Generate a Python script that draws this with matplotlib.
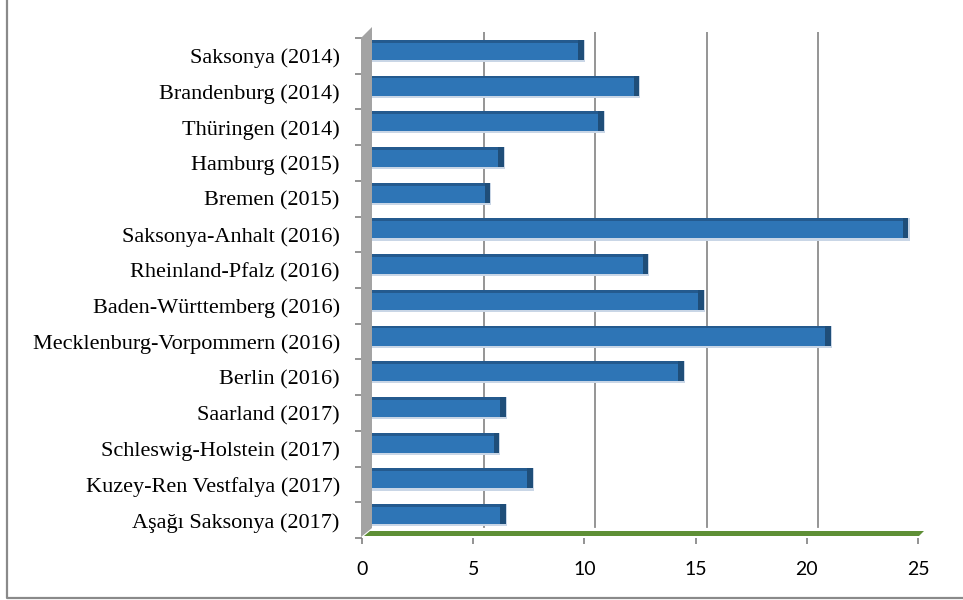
import numpy as np
import matplotlib.pyplot as plt
from matplotlib.patches import Polygon
from matplotlib.lines import Line2D
from matplotlib.transforms import offset_copy

# data (top to bottom as shown)
states = ["Saksonya (2014)", "Brandenburg (2014)", "Thüringen (2014)", "Hamburg (2015)",
          "Bremen (2015)", "Saksonya-Anhalt (2016)", "Rheinland-Pfalz (2016)",
          "Baden-Württemberg (2016)", "Mecklenburg-Vorpommern (2016)", "Berlin (2016)",
          "Saarland (2017)", "Schleswig-Holstein (2017)", "Kuzey-Ren Vestfalya (2017)",
          "Aşağı Saksonya (2017)"]
values = [9.7, 12.2, 10.6, 6.1, 5.5, 24.3, 12.6, 15.1, 20.8, 14.2, 6.2, 5.9, 7.4, 6.2]
xticks = [0, 5, 10, 15, 20, 25]

W, H = 963, 600
fig = plt.figure(figsize=(W / 100, H / 100), dpi=100)

def fx(px):
    return px / W

def fy(py):
    return 1 - py / H

n = len(states)
ypos = np.arange(n)[::-1] + 0.5
vals = np.array(values)

# bar plane (middle depth of the 3d box)
ax = fig.add_axes([fx(368), fy(532), fx(924) - fx(368), fy(32) - fy(532)])
ax.set_xlim(0, 25)
ax.set_ylim(0, n)
ax.axis("off")

# gridlines sit on the back wall, a bit to the right
back = offset_copy(ax.get_xaxis_transform(), fig=fig, x=5, y=0, units="dots")
for v in xticks[1:-1]:
    ax.plot([v, v], [0.01, 1.0], color="#8c8c8c", lw=1.3, transform=back, zorder=1)

bh = 0.56
# soft shadow under each bar
ax.barh(ypos - 0.03, vals + 0.05, height=bh + 0.06, color="#c9d6e6", zorder=2)
ax.barh(ypos, vals, height=bh, color="#2E75B6", zorder=3)
ax.barh(ypos + bh / 2 - 0.04, vals, height=0.08, color="#245A8E", zorder=4)
ax.barh(ypos, [0.25] * n, left=vals - 0.25, height=bh, color="#1F4E79", zorder=4)

# front plane: tick marks and labels
fr = fig.add_axes([fx(362), fy(538), fx(918) - fx(362), fy(38) - fy(538)])
fr.patch.set_alpha(0)
fr.set_xlim(0, 25)
fr.set_ylim(0, n)
for s in fr.spines.values():
    s.set_visible(False)
fr.set_xticks(xticks)
fr.set_xticklabels([str(t) for t in xticks], fontfamily="Lato", fontsize=14)
fr.tick_params(axis="x", length=4, width=1.2, color="#808080", pad=12.5)
fr.set_yticks(ypos)
fr.set_yticklabels(states, fontfamily="Liberation Serif", fontsize=16)
fr.tick_params(axis="y", which="major", length=0, pad=16)
fr.set_yticks(np.arange(n + 1), minor=True)
fr.tick_params(axis="y", which="minor", length=5, width=1.2, color="#808080")

# side wall
fig.add_artist(Polygon([(fx(361), fy(38)), (fx(372), fy(27)), (fx(372), fy(528)), (fx(361), fy(537))],
                       closed=True, transform=fig.transFigure, facecolor="#a3a3a3", edgecolor="none"))
# floor
fig.add_artist(Polygon([(fx(364), fy(536)), (fx(370), fy(531)), (fx(924), fy(531)), (fx(919), fy(536))],
                       closed=True, transform=fig.transFigure, facecolor="#5E8F36", edgecolor="none"))

# chart frame (left and bottom visible)
fig.add_artist(Line2D([fx(7), fx(7), fx(963)], [fy(0), fy(598), fy(598)],
                      transform=fig.transFigure, color="#8a8a8a", lw=1.6))

fig.savefig("out.png", dpi=100)
